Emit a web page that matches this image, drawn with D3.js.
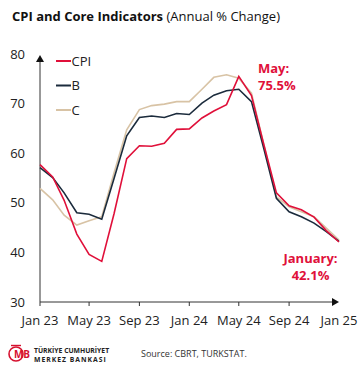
<!DOCTYPE html>
<html>
<head>
<meta charset="utf-8">
<script src="https://cdn.jsdelivr.net/npm/d3@7"></script>
<style>
  body { margin: 0; background: #fff; }
  svg { font-family: "Open Sans", sans-serif; display: block; }
</style>
</head>
<body>
<svg id="chart"></svg>
<script>
// monthly data Jan 23 .. Jan 25
let months = d3.timeMonths(new Date(2023, 0, 1), new Date(2025, 0, 2));
let cpi = [57.7, 55.2, 50.5, 43.7, 39.6, 38.2, 47.8, 58.9, 61.5, 61.4, 62.0, 64.8,
           64.9, 67.1, 68.5, 69.8, 75.5, 71.6, 61.8, 52.0, 49.4, 48.6, 47.1, 44.4, 42.1];
let coreB = [57.1, 55.1, 52.0, 48.0, 47.7, 46.7, 54.9, 63.5, 67.2, 67.5, 67.2, 68.0,
             67.8, 70.1, 71.7, 72.6, 72.9, 70.4, 61.0, 50.9, 48.2, 47.2, 45.9, 44.2, 42.2];
let coreC = [52.9, 50.6, 47.5, 45.5, 46.4, 47.2, 56.0, 64.7, 68.8, 69.6, 69.9, 70.4,
             70.4, 72.9, 75.3, 75.8, 75.1, 72.1, 61.8, 51.2, 49.2, 48.2, 47.2, 44.9, 42.5];
let yTicks = [30, 40, 50, 60, 70, 80];
let xTickLabels = ["Jan 23", "May 23", "Sep 23", "Jan 24", "May 24", "Sep 24", "Jan 25"];

let series = [
  {name: "CPI", values: cpi, color: "#e0103a"},
  {name: "B", values: coreB, color: "#1b2b3c"},
  {name: "C", values: coreC, color: "#d8c3a5"}
];

let width = 364, height = 371;
let svg = d3.select("#chart").attr("width", width).attr("height", height);

let x = d3.scaleTime().domain([months[0], months[months.length - 1]]).range([40, 339]);
let y = d3.scaleLinear().domain([30, 80]).range([302, 54]);

// title
let title = svg.append("text").attr("x", 12).attr("y", 21).style("font-size", "13px").attr("fill", "#111");
title.append("tspan").attr("font-weight", "bold").text("CPI and Core Indicators");
title.append("tspan").text(" (Annual % Change)");

// y axis line with arrow
svg.append("line").attr("x1", 40).attr("x2", 40).attr("y1", 302).attr("y2", 60)
  .attr("stroke", "#333").attr("stroke-width", 1);
svg.append("path").attr("d", "M36,62 L40,55 L44,62 Z").attr("fill", "#111");

// x axis line with arrow
svg.append("line").attr("x1", 40).attr("x2", 333).attr("y1", 302).attr("y2", 302)
  .attr("stroke", "#333").attr("stroke-width", 1);
svg.append("path").attr("d", "M332,298 L339,302 L332,306 Z").attr("fill", "#111");

// y tick labels
svg.selectAll(".ylab").data(yTicks).join("text")
  .attr("class", "ylab")
  .attr("x", 25).attr("y", d => y(d)).attr("dy", "0.35em")
  .attr("text-anchor", "end").style("font-size", "13px").attr("fill", "#222")
  .text(d => d);

// x ticks every 4 months
let tickDates = months.filter((m, i) => i % 4 === 0);
svg.selectAll(".xtick").data(tickDates.slice(0, -1)).join("line")
  .attr("class", "xtick")
  .attr("x1", d => x(d)).attr("x2", d => x(d)).attr("y1", 302).attr("y2", 306)
  .attr("stroke", "#333");
svg.selectAll(".xlab").data(tickDates).join("text")
  .attr("class", "xlab")
  .attr("x", d => x(d)).attr("y", 325)
  .attr("text-anchor", "middle").style("font-size", "13px").attr("fill", "#222")
  .text((d, i) => xTickLabels[i]);

// lines (C behind, then B, then CPI)
let line = d3.line().x((d, i) => x(months[i])).y(d => y(d));
svg.selectAll(".series").data(series.slice().reverse()).join("path")
  .attr("class", "series")
  .attr("d", d => line(d.values))
  .attr("fill", "none").attr("stroke", d => d.color).attr("stroke-width", 1.6)
  .attr("stroke-linejoin", "miter");

// legend
let legend = svg.selectAll(".leg").data(series).join("g")
  .attr("class", "leg")
  .attr("transform", (d, i) => `translate(56, ${61 + i * 24.5})`);
legend.append("line").attr("x1", 0).attr("x2", 15).attr("stroke", d => d.color).attr("stroke-width", 2);
legend.append("text").attr("x", 15.5).attr("dy", "0.35em").style("font-size", "13px").attr("fill", "#222")
  .text(d => d.name);

// annotations
let red = "#e0103a";
svg.append("text").attr("x", 258).attr("y", 73).attr("font-weight", "bold")
  .style("font-size", "13px").attr("fill", red).text("May:");
svg.append("text").attr("x", 258).attr("y", 90).attr("font-weight", "bold")
  .style("font-size", "13px").attr("fill", red).text("75.5%");
svg.append("text").attr("x", 310.5).attr("y", 263).attr("text-anchor", "middle").attr("font-weight", "bold")
  .style("font-size", "13px").attr("fill", red).text("January:");
svg.append("text").attr("x", 310.5).attr("y", 280).attr("text-anchor", "middle").attr("font-weight", "bold")
  .style("font-size", "13px").attr("fill", red).text("42.1%");

// footer logo (simplified)
let logo = svg.append("g");
logo.append("circle").attr("cx", 16).attr("cy", 354).attr("r", 7)
  .attr("fill", "none").attr("stroke", "#d6112f").attr("stroke-width", 1.6);
logo.append("line").attr("x1", 11).attr("x2", 21).attr("y1", 345.5).attr("y2", 345.5)
  .attr("stroke", "#d6112f").attr("stroke-width", 1.4);
logo.append("text").attr("x", 22).attr("y", 358).attr("text-anchor", "middle")
  .attr("font-weight", "bold").style("font-size", "10px").attr("fill", "#d6112f").text("MB");
svg.append("text").attr("x", 34).attr("y", 353).attr("font-weight", "bold")
  .style("font-size", "6.8px").attr("fill", "#222").text("TÜRKİYE CUMHURİYET");
svg.append("text").attr("x", 34).attr("y", 361.5).attr("font-weight", "bold")
  .style("font-size", "6.8px").style("letter-spacing", "1px").attr("fill", "#222").text("MERKEZ BANKASI");
svg.append("text").attr("x", 141).attr("y", 357).style("font-size", "9px").attr("fill", "#333")
  .text("Source: CBRT, TURKSTAT.");
</script>
</body>
</html>
